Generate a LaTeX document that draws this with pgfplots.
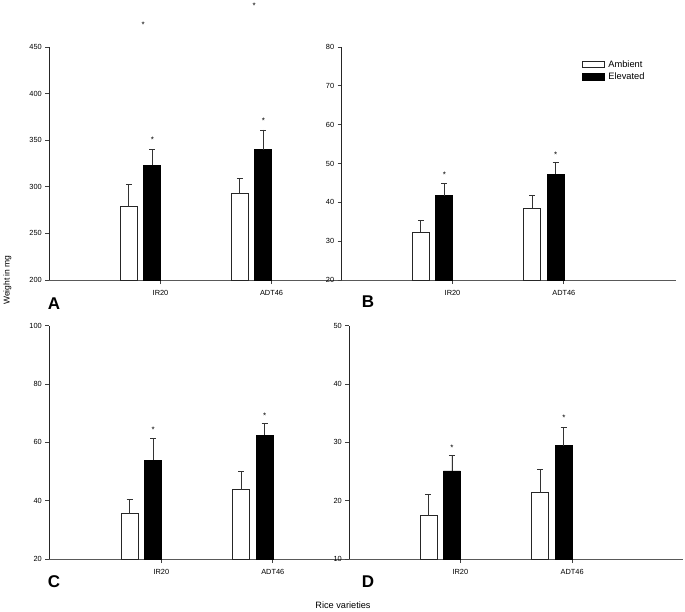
\documentclass[border=0pt]{standalone}
\usepackage{pgfplots}
\pgfplotsset{compat=1.18}
\usepackage{fontspec}
\setmainfont{Liberation Sans}

\pgfplotsset{
  panel/.style={
    scale only axis, anchor=south west,
    axis x line*=bottom, axis y line*=left,
    x axis line style={draw=black!65, line width=0.9pt, -},
    y axis line style={draw=black!85, line width=0.8pt, -},
    tick align=outside, major tick length=4pt,
    tick style={draw=black!75, line width=0.7pt},
    xtick={1.18,2.18}, xticklabels={IR20,ADT46},
    x tick label style={font=\fontsize{7.4}{8}\selectfont, yshift=-2.5pt},
    y tick label style={font=\fontsize{7.4}{8}\selectfont},
    /pgf/number format/assume math mode=true,
    ybar,
    legend image code/.code={\draw[#1, line width=0.8pt] (0pt,-3.3pt) rectangle (21.6pt,3.3pt);},
  },
  over/.style={scale only axis, anchor=south west, hide axis, clip=false},
  amb/.style={ybar, bar width=17pt, bar shift=-11.75pt, draw=black!85, fill=white, line width=0.8pt,
    error bars/.cd, y dir=plus, y explicit,
    error bar style={draw=black!80, line width=0.8pt},
    error mark options={draw=black!80, line width=0.8pt, mark size=3pt, rotate=90}},
  elev/.style={ybar, bar width=17pt, bar shift=11.75pt, draw=black, fill=black, line width=0.8pt,
    error bars/.cd, y dir=plus, y explicit,
    error bar style={draw=black!80, line width=0.8pt},
    error mark options={draw=black!80, line width=0.8pt, mark size=3pt, rotate=90}},
  stars/.style={only marks, mark=none,
    nodes near coords={*}, point meta=explicit symbolic,
    every node near coord/.append style={anchor=center, yshift=-1.5pt, inner sep=0pt,
      font=\fontsize{8}{8}\selectfont, text=black}},
}

\begin{document}
\begin{tikzpicture}[x=1pt,y=1pt]
\path (0,0) rectangle (685,610);

% Panel A
\begin{axis}[panel, at={(49.3pt,330pt)}, width=291.7pt, height=233pt,
  xmin=0.178, xmax=2.806, ymin=200, ymax=450, ytick={200,250,300,350,400,450}]
\addplot[amb] coordinates {(1,279) +- (0,24) (2,293) +- (0,16)};
\addplot[elev] coordinates {(1,323) +- (0,17) (2,340) +- (0,21)};
\end{axis}
\begin{axis}[over, at={(49.3pt,330pt)}, width=291.7pt, height=233pt,
  xmin=0.178, xmax=2.806, ymin=200, ymax=450]
\addplot[stars] coordinates {(1.106,352) (2.106,372) (1.023,476) (2.023,496)};
\end{axis}

% Panel B
\begin{axis}[panel, at={(341.7pt,330pt)}, width=334.3pt, height=233pt,
  xmin=0.184, xmax=3.188, ymin=20, ymax=80, ytick={20,30,40,50,60,70,80},
  legend style={at={(0.718,0.952)}, anchor=north west, draw=none, fill=none,
    font=\fontsize{9.3}{10}\selectfont, row sep=0pt, inner sep=0pt,
    /tikz/every odd column/.append style={column sep=2pt},
    cells={anchor=west}}]
\addplot[amb] coordinates {(1,32.3) +- (0,3.0) (2,38.5) +- (0,3.4)};
\addlegendentry{Ambient}
\addplot[elev] coordinates {(1,41.7) +- (0,3.2) (2,47.2) +- (0,3.1)};
\addlegendentry{Elevated}
\end{axis}
\begin{axis}[over, at={(341.7pt,330pt)}, width=334.3pt, height=233pt,
  xmin=0.184, xmax=3.188, ymin=20, ymax=80]
\addplot[stars] coordinates {(1.106,47.5) (2.106,52.6)};
\end{axis}

% Panel C
\begin{axis}[panel, at={(49.3pt,51pt)}, width=300pt, height=233.3pt,
  xmin=0.175, xmax=2.866, ymin=20, ymax=100, ytick={20,40,60,80,100}]
\addplot[amb] coordinates {(1,35.5) +- (0,5.0) (2,43.7) +- (0,6.4)};
\addplot[elev] coordinates {(1,53.9) +- (0,7.5) (2,62.5) +- (0,3.9)};
\end{axis}
\begin{axis}[over, at={(49.3pt,51pt)}, width=300pt, height=233.3pt,
  xmin=0.175, xmax=2.866, ymin=20, ymax=100]
\addplot[stars] coordinates {(1.106,65) (2.106,69.7)};
\end{axis}

% Panel D
\begin{axis}[panel, at={(349.3pt,51pt)}, width=333.7pt, height=233.3pt,
  xmin=0.187, xmax=3.172, ymin=10, ymax=50, ytick={10,20,30,40,50}]
\addplot[amb] coordinates {(1,17.4) +- (0,3.7) (2,21.4) +- (0,4.0)};
\addplot[elev] coordinates {(1,25.1) +- (0,2.7) (2,29.4) +- (0,3.1)};
\end{axis}
\begin{axis}[over, at={(349.3pt,51pt)}, width=333.7pt, height=233.3pt,
  xmin=0.187, xmax=3.172, ymin=10, ymax=50]
\addplot[stars] coordinates {(1.106,29.4) (2.106,34.5)};
\end{axis}

\node[font=\fontsize{17}{17}\selectfont\bfseries] at (54,306) {A};
\node[font=\fontsize{17}{17}\selectfont\bfseries] at (368,308) {B};
\node[font=\fontsize{17}{17}\selectfont\bfseries] at (54,28) {C};
\node[font=\fontsize{17}{17}\selectfont\bfseries] at (368,28) {D};
\node[font=\fontsize{9.2}{10}\selectfont] at (343,5) {Rice varieties};
\node[font=\fontsize{8.5}{9}\selectfont, rotate=90] at (7.5,330) {Weight in mg};
\end{tikzpicture}
\end{document}
